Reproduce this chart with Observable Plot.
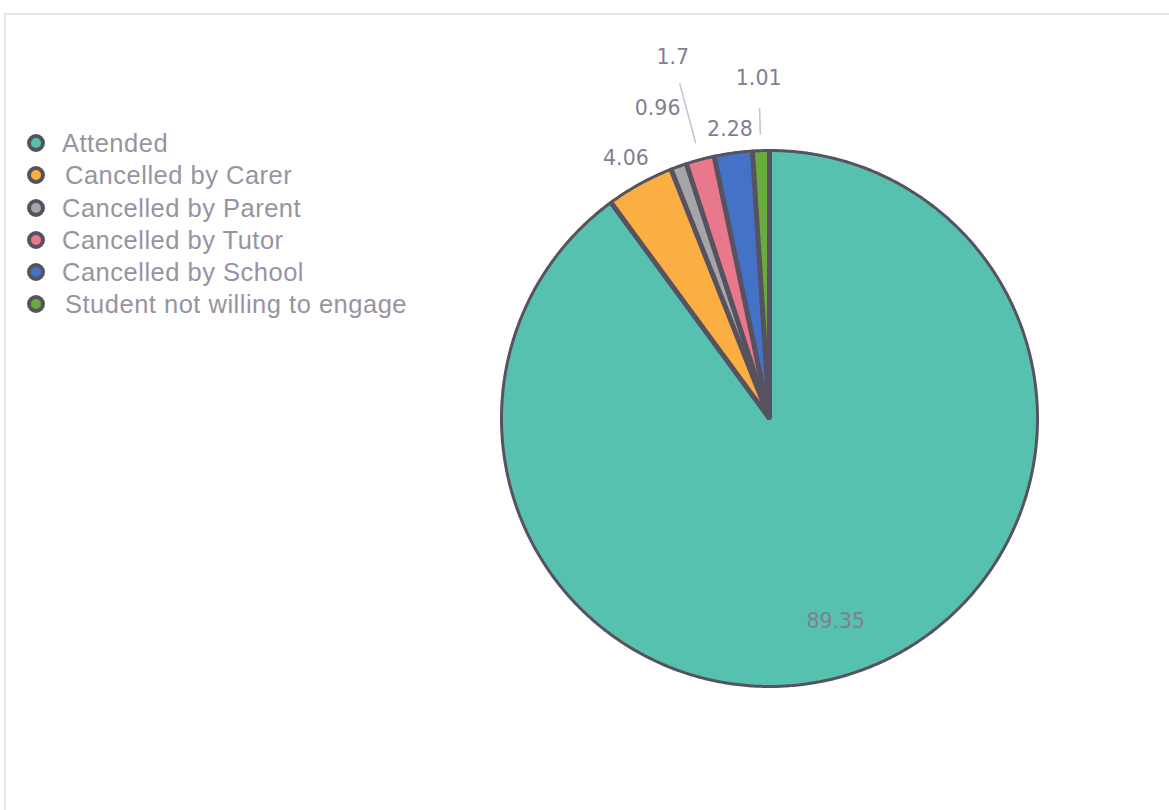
<!DOCTYPE html>
<html>
<head>
<meta charset="utf-8">
<script src="https://cdn.jsdelivr.net/npm/d3@7"></script>
<script src="https://cdn.jsdelivr.net/npm/@observablehq/plot@0.6"></script>
<style>
  html, body { margin: 0; padding: 0; background: #fff; width: 1169px; height: 810px; overflow: hidden; }
  #frame { position: absolute; left: 4px; top: 13px; width: 1300px; height: 1000px; border: 2px solid #e7e7e7; box-sizing: border-box; }
  #chart { position: absolute; left: 0; top: 0; }
  #legend { position: absolute; left: 0; top: 0; font-family: "Liberation Sans", Arial, sans-serif; font-size: 25.5px; letter-spacing: 0.5px; color: #9893a2; }
  .row { position: absolute; left: 0; height: 32px; display: flex; align-items: center; white-space: nowrap; }
  .dot { position: absolute; left: 27px; width: 10px; height: 10px; border: 4px solid #57525f; border-radius: 50%; }
  .lab { position: absolute; left: 62px; line-height: 32px; }
</style>
</head>
<body>
<div id="frame"></div>
<div id="chart"></div>
<div id="legend"></div>
<script>
// ---- data ----
const categories = ["Attended", "Cancelled by Carer", "Cancelled by Parent", "Cancelled by Tutor", "Cancelled by School", "Student not willing to engage"];
const values = [89.35, 4.06, 0.96, 1.7, 2.28, 1.01];
const colors = ["#57c1b0", "#fbae42", "#a6a6a8", "#e8788a", "#4472c6", "#6aab3d"];

// ---- layout (pixels) ----
const W = 1169, H = 810;
const cx = 769, cy = 418, Rpx = 268;
// label radius in units of R, and optional leader line radii
const labelR = [0.795, 1 + 29 / Rpx, 1 + 62 / Rpx, 1 + 106 / Rpx, 1 + 24 / Rpx, 1 + 72 / Rpx];
const leader = [null, null, null, [1 + 17 / Rpx, 1 + 79 / Rpx], null, [1 + 16 / Rpx, 1 + 43 / Rpx]];
const legendY = [143, 175, 207.5, 240, 272, 304];
const legendIndent = [0, 3, 0, 0, 0, 3];

const arcs = d3.pie().sort(null).value(d => d)(values);

const pts = [];
arcs.forEach((a, i) => {
  const key = categories[i];
  pts.push({key, x: 0, y: 0});
  const n = Math.max(2, Math.ceil((a.endAngle - a.startAngle) / (Math.PI / 360)));
  for (let k = 0; k <= n; k++) {
    const t = a.startAngle + (a.endAngle - a.startAngle) * k / n;
    pts.push({key, x: Math.sin(t), y: Math.cos(t)});
  }
  pts.push({key, x: 0, y: 0});
});

// radial separators between slices
const edges = arcs.map(a => ({x: Math.sin(a.startAngle), y: Math.cos(a.startAngle)}));

const labels = arcs.map((a, i) => {
  const m = (a.startAngle + a.endAngle) / 2;
  return {text: String(values[i]), x: labelR[i] * Math.sin(m), y: labelR[i] * Math.cos(m)};
});
const links = [];
arcs.forEach((a, i) => {
  if (!leader[i]) return;
  const m = (a.startAngle + a.endAngle) / 2;
  const [r1, r2] = leader[i];
  links.push({x1: r1 * Math.sin(m), y1: r1 * Math.cos(m), x2: r2 * Math.sin(m), y2: r2 * Math.cos(m)});
});

const chart = Plot.plot({
  width: W, height: H,
  margin: 0,
  x: {domain: [-cx / Rpx, (W - cx) / Rpx], range: [0, W], axis: null},
  y: {domain: [-(H - cy) / Rpx, cy / Rpx], range: [H, 0], axis: null},
  color: {type: "ordinal", domain: categories, range: colors},
  style: {background: "transparent"},
  marks: [
    Plot.line(pts, {x: "x", y: "y", z: "key", fill: "key", stroke: "#57525f", strokeWidth: 3, strokeLinejoin: "round", curve: "linear"}),
    Plot.link(edges, {x1: 0, y1: 0, x2: "x", y2: "y", stroke: "#57525f", strokeWidth: 5}),
    Plot.link(links, {x1: "x1", y1: "y1", x2: "x2", y2: "y2", stroke: "#c4c3c9", strokeWidth: 1.5}),
    Plot.text(labels, {x: "x", y: "y", text: "text", fill: "#847e90", fontSize: 20.5, fontFamily: "DejaVu Sans", textAnchor: "middle", lineAnchor: "middle"})
  ]
});
document.getElementById("chart").appendChild(chart);

const legend = document.getElementById("legend");
categories.forEach((c, i) => {
  const row = document.createElement("div");
  row.className = "row";
  row.style.top = (legendY[i] - 16) + "px";
  const dot = document.createElement("span");
  dot.className = "dot";
  dot.style.background = colors[i];
  const lab = document.createElement("span");
  lab.className = "lab";
  lab.style.left = (62 + legendIndent[i]) + "px";
  lab.textContent = c;
  row.appendChild(dot);
  row.appendChild(lab);
  legend.appendChild(row);
});
</script>
</body>
</html>
